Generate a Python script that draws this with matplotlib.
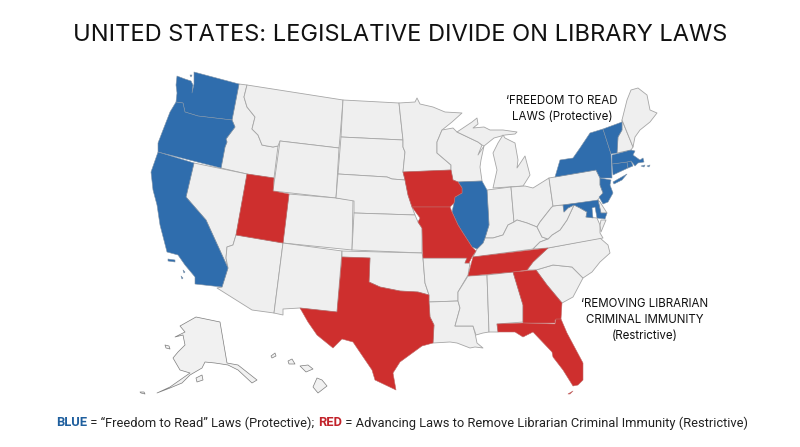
import matplotlib
matplotlib.use('Agg')
import matplotlib.pyplot as plt

# state outlines (x, y in image pixels)
WA = [(177,76),(185,79),(191,81),(193,85),(192,93),(194,84),(194,72),(239,84),(232,120),(198,116),(185,112),(183,103),(176,102),(177,93),(176,85)]
OR = [(176,102),(183,103),(185,112),(198,116),(232,120),(235,127),(226,139),(227,142),(225,147),(221,168),(158,152),(158,143),(163,130),(170,112)]
CA = [(158,152),(194,163),(186,197),(206,220),(228,268),(222,287),(195,284),(195,277),(185,265),(178,255),(167,252),(160,225),(157,205),(153,190),(151,172)]
NV = [(194,163),(247,174),(236,235),(233,245),(227,247),(226,258),(228,268),(206,220),(186,197)]
ID = [(239,84),(247,85),(244,97),(247,107),(255,117),(252,129),(258,135),(262,145),(267,146),(273,147),(278,146),(274,178),(247,174),(221,168),(225,147),(227,142),(226,139),(235,127),(232,120)]
MT = [(247,85),(343,100),(340,137),(339,148),(280,141),(278,146),(273,147),(267,146),(262,145),(258,135),(252,129),(255,117),(247,107),(244,97)]
WY = [(280,141),(339,148),(336,198),(273,191)]
UT = [(247,174),(274,178),(273,191),(289,194),(283,243),(236,235)]
AZ = [(236,235),(283,243),(274,313),(252,310),(217,288),(222,287),(228,268),(226,258),(227,247),(233,245)]
CO = [(289,194),(336,198),(353,200),(352,250),(283,243)]
NM = [(283,243),(342,251),(337,312),(300,308),(283,309),(283,315),(274,313)]
ND = [(343,100),(399,103),(403,140),(341,137)]
SD = [(341,137),(403,140),(403,147),(405,152),(403,172),(405,180),(392,179),(387,177),(338,174)]
NE = [(338,174),(387,177),(392,179),(405,180),(408,195),(412,207),(415,215),(354,213),(354,201),(336,198)]
KS = [(354,213),(415,215),(418,222),(422,228),(422,253),(352,250)]
OK = [(342,251),(422,253),(423,258),(425,283),(429,295),(418,292),(400,291),(380,287),(369,282),(370,258),(342,257)]
TX = [(342,257),(370,258),(369,282),(380,287),(400,291),(418,292),(429,295),(429,302),(430,317),(434,325),(433,343),(422,346),(400,362),(393,373),(396,390),(375,380),(372,370),(353,342),(342,339),(333,348),(317,335),(308,322),(300,308),(337,312)]
MN = [(399,103),(415,102),(417,98),(420,104),(433,107),(445,112),(462,113),(452,122),(442,130),(437,142),(437,153),(451,165),(451,170),(403,172),(405,152),(403,147),(403,140)]
IA = [(403,172),(451,170),(453,180),(458,182),(462,188),(462,193),(455,197),(454,203),(450,207),(412,207),(408,195),(405,180)]
MO = [(412,207),(450,207),(452,212),(458,225),(463,233),(472,247),(476,251),(472,257),(469,263),(465,263),(467,258),(423,258),(422,228),(418,222),(420,218)]
AR = [(423,258),(467,258),(465,263),(470,263),(468,275),(458,292),(458,301),(429,302),(429,295),(425,283)]
LA = [(429,302),(458,301),(460,308),(455,326),(473,326),(475,333),(477,343),(483,348),(475,347),(470,348),(457,343),(450,342),(433,343),(434,325),(430,317)]
WI = [(442,130),(453,128),(457,132),(478,142),(482,145),(478,155),(484,146),(481,160),(480,167),(482,181),(458,182),(453,180),(451,170),(451,165),(437,153),(437,142)]
IL = [(458,182),(482,181),(487,190),(489,225),(485,238),(483,243),(477,249),(472,247),(463,233),(458,225),(452,212),(454,203),(455,197),(462,193),(462,188)]
MI_UP = [(457,132),(472,122),(477,118),(478,124),(473,128),(484,127),(490,130),(503,130),(517,132),(515,134),(505,135),(494,138),(484,146),(482,145),(478,142)]
MI_LP = [(503,135),(505,138),(515,143),(518,160),(517,168),(525,156),(530,175),(525,183),(523,186),(493,188),(497,170),(493,153),(498,143)]
IN = [(487,190),(511,187),(514,222),(508,225),(503,235),(493,238),(485,238),(489,225)]
OH = [(511,187),(525,186),(533,188),(549,178),(553,206),(551,208),(540,222),(537,227),(527,223),(517,220),(514,222)]
KY = [(485,238),(493,238),(503,235),(508,225),(514,222),(517,220),(527,223),(537,227),(542,237),(548,239),(540,242),(533,249),(473,257),(476,251),(477,249),(483,243)]
TN = [(473,257),(548,248),(533,262),(527,270),(513,272),(468,276)]
MS = [(468,276),(487,275),(489,332),(483,333),(476,335),(473,326),(455,326),(460,308),(458,301),(458,292)]
AL = [(487,275),(513,272),(523,305),(523,322),(497,324),(498,332),(492,332),(489,332)]
GA = [(513,272),(536,270),(547,285),(562,303),(561,319),(555,320),(555,323),(523,323),(523,305)]
FL = [(497,324),(523,323),(555,324),(556,319),(561,319),(567,333),(583,363),(583,380),(578,385),(573,386),(563,370),(553,357),(552,352),(533,332),(523,337),(515,332),(498,332)]
SC = [(536,270),(553,265),(572,267),(583,278),(573,297),(562,303),(547,285)]
NC = [(548,248),(600,238),(608,245),(610,253),(600,262),(592,272),(583,278),(572,267),(553,265),(536,270),(527,270),(533,262)]
VA = [(533,249),(540,242),(548,239),(552,235),(560,230),(567,220),(574,205),(580,208),(587,212),(586,217),(597,218),(600,225),(600,233),(603,238),(548,248)]
WV = [(551,208),(553,206),(563,205),(564,212),(568,208),(574,205),(567,220),(560,230),(552,235),(548,239),(542,237),(537,227),(540,222)]
PA = [(549,178),(555,177),(596,170),(600,178),(600,185),(603,193),(597,201),(553,206)]
NY = [(555,177),(560,160),(573,158),(580,148),(590,133),(603,129),(611,154),(612,178),(600,178),(596,170)]
LI = [(613,182),(627,174),(622,180),(614,184)]
NJ = [(600,178),(611,180),(610,185),(613,193),(608,202),(603,204),(599,197),(603,193),(600,185)]
MD = [(563,205),(598,200),(601,213),(607,213),(605,219),(597,218),(595,207),(592,208),(593,218),(586,217),(587,212),(580,208),(574,205),(568,208),(564,212)]
DE = [(598,200),(600,202),(607,213),(601,213)]
VA_SHORE = [(601,220),(606,220),(601,232),(600,225)]
CT = [(612,164),(627,162),(628,168),(613,175)]
RI = [(627,162),(631,161),(633,166),(628,168)]
MA = [(612,155),(631,150),(635,151),(633,155),(640,160),(643,158),(644,162),(638,163),(635,166),(631,161),(627,162),(612,164)]
VT = [(603,129),(622,122),(622,130),(618,137),(617,153),(611,154)]
NH = [(622,120),(633,147),(631,150),(617,153),(618,137),(622,130)]
ME = [(622,120),(627,100),(631,90),(638,88),(647,95),(650,110),(657,113),(650,122),(640,130),(635,137),(633,147)]
AK = [(196,317),(220,322),(227,363),(238,365),(257,380),(252,383),(238,370),(228,365),(215,363),(205,362),(202,368),(190,375),(182,383),(170,388),(157,393),(170,387),(180,380),(190,373),(180,370),(173,358),(178,352),(185,345),(183,335),(175,337),(185,332),(180,326)]
KODIAK = [(196,378),(202,375),(203,380),(197,382)]
AK_ISLE = [(165,345),(169,346),(170,349),(166,348)]
AK_ALEUT = [(140,392),(144,392),(145,394),(141,393)]
HI_BIG = [(317,378),(322,380),(327,386),(318,393),(313,387)]
HI_MAUI = [(300,366),(308,365),(313,369),(306,372)]
HI_OAHU = [(288,361),(292,359),(295,364),(289,364)]
HI_KAUAI = [(271,356),(275,353),(276,356),(272,358)]
CHANNEL_A = [(168,259),(175,260),(175,262),(168,261)]
CHANNEL_B = [(183,270),(185,272),(184,273)]
CHANNEL_C = [(181,276),(183,278),(182,279)]
MV = [(641,166),(645,165),(644,167)]
NANTUCKET = [(647,166),(650,165),(649,167)]
FL_KEYS = [(568,394),(573,391),(570,394)]
SAN_JUAN = [(190,75),(192,75),(191,77)]

GREY_STATES = [ID, MT, WY, NV, AZ, CO, NM, ND, SD, NE, KS, OK, MN, AR, LA, WI, MI_UP, MI_LP, IN, OH, KY, MS, AL, SC, NC, VA, WV, PA, DE, VA_SHORE, NH, ME]
BLUE_STATES = [WA, OR, CA, IL, NY, LI, NJ, MD, CT, RI, MA, VT, CHANNEL_A, CHANNEL_B, CHANNEL_C, MV, NANTUCKET, SAN_JUAN]
RED_STATES = [UT, TX, IA, MO, TN, GA, FL, FL_KEYS]
FAR_STATES = [AK, KODIAK, AK_ISLE, AK_ALEUT, HI_BIG, HI_MAUI, HI_OAHU, HI_KAUAI]

TITLE = 'UNITED STATES: LEGISLATIVE DIVIDE ON LIBRARY LAWS'
NOTE_BLUE = '\u2018FREEDOM TO READ\nLAWS (Protective)'
NOTE_RED = '\u2018REMOVING LIBRARIAN\nCRIMINAL IMMUNITY\n(Restrictive)'
LEGEND_PARTS = [('BLUE', '#1f5f9e', 'bold'),
                (' = \u201cFreedom to Read\u201d Laws (Protective); ', '#222222', 'normal'),
                ('RED', '#c2222a', 'bold'),
                (' = Advancing Laws to Remove Librarian Criminal Immunity (Restrictive)', '#222222', 'normal')]

plt.rcParams['font.family'] = ['Inter', 'DejaVu Sans']

fig = plt.figure(figsize=(8, 4.47), dpi=100)
ax = fig.add_axes([0, 0, 1, 1])
ax.set_xlim(0, 800)
ax.set_ylim(447, 0)
ax.axis('off')


def draw(shapes, face, edge, lw=0.6):
    for s in shapes:
        ax.fill([p[0] for p in s], [p[1] for p in s], facecolor=face, edgecolor=edge, linewidth=lw, joinstyle='round')


draw(GREY_STATES, '#efefef', '#a6a6a6')
draw(BLUE_STATES, '#2f6dad', '#7f93a8', 0.4)
draw(RED_STATES, '#ce2f2e', '#c06a68', 0.4)
draw(FAR_STATES, '#f1f1f1', '#7d7d7d', 0.5)

ax.text(400, 35, TITLE, ha='center', va='center', fontsize=17.0, color='#111111')
ax.text(562, 109, NOTE_BLUE, ha='center', va='center', fontsize=8.3, color='#111111', linespacing=1.35)
ax.text(645, 320, NOTE_RED, ha='center', va='center', fontsize=8.3, color='#111111', linespacing=1.45)

# bottom line is made of four pieces, placed one after the other
fig.canvas.draw()
rend = fig.canvas.get_renderer()
widths = []
for txt, col, wt in LEGEND_PARTS:
    t = ax.text(0, 0, txt.replace(' ', '\u00a0'), fontsize=9.3, family='Roboto', weight=wt)
    widths.append(t.get_window_extent(rend).width)
    t.remove()
x = 402 - sum(widths) / 2
for (txt, col, wt), w in zip(LEGEND_PARTS, widths):
    ax.text(x, 423, txt.replace(' ', '\u00a0'), fontsize=9.3, family='Roboto', weight=wt, color=col, ha='left', va='center')
    x += w

fig.savefig('out.png', dpi=100)
